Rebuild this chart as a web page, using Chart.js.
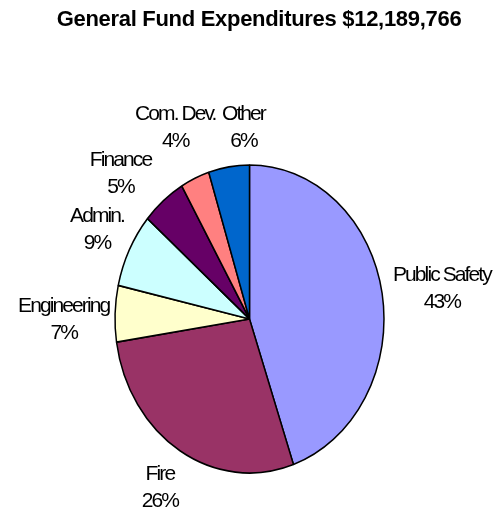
<!DOCTYPE html>
<html>
<head>
  <title>General Fund Expenditures</title>
  <style>
    body {
      margin: 0;
      background: #ffffff;
    }
    #chartContainer {
      display: block;
    }
  </style>
</head>
<body>
  <canvas id="chartContainer" width="496" height="512"></canvas>

  <script src="https://cdn.jsdelivr.net/npm/chart.js@4/dist/chart.umd.min.js"></script>

  <script>
    const chartTitle = 'General Fund Expenditures $12,189,766';
    const departments = ['Public Safety', 'Fire', 'Engineering', 'Admin.', 'Finance', 'Com. Dev.', 'Other'];
    // slice sizes as drawn
    const shares = [44.7, 27.9, 5.9, 7.8, 5.3, 3.5, 4.9];
    // percentages as printed on the labels
    const percentLabels = ['43%', '26%', '7%', '9%', '5%', '4%', '6%'];
    const sliceColors = ['#9999FF', '#993366', '#FFFFCC', '#CCFFFF', '#660066', '#FF8080', '#0066CC'];

    const PIE_RADIUS = 134.5;     // horizontal radius
    const STRETCH_Y = 1.145;      // the pie is an upright ellipse
    const LABEL_REACH = 1.36;     // label distance, in radii
    // small shifts to mimic the original best-fit label placement
    const labelNudge = [[12, 3], [5, -12], [-3, 6], [11, 3], [-12, 14], [0, -2], [22, 14]];

    // stretch the pie vertically around its centre
    const ellipsePlugin = {
      id: 'ellipse',
      beforeDatasetsDraw(chart) {
        const arc = chart.getDatasetMeta(0).data[0];
        const ctx = chart.ctx;
        ctx.save();
        ctx.translate(arc.x, arc.y);
        ctx.scale(1, STRETCH_Y);
        ctx.translate(-arc.x, -arc.y);
      },
      afterDatasetsDraw(chart) {
        chart.ctx.restore();
      }
    };

    const textPlugin = {
      id: 'texts',
      afterDraw(chart) {
        const ctx = chart.ctx;
        ctx.save();
        ctx.fillStyle = '#000000';
        ctx.textAlign = 'center';
        ctx.textBaseline = 'alphabetic';

        ctx.font = "bold 22px 'Liberation Sans', Arial, sans-serif";
        ctx.letterSpacing = '-0.3px';
        ctx.fillText(chartTitle, 259, 26);

        ctx.font = "21px 'Liberation Sans', Arial, sans-serif";
        ctx.letterSpacing = '-1.9px';
        chart.getDatasetMeta(0).data.forEach((arc, i) => {
          const mid = (arc.startAngle + arc.endAngle) / 2;
          const r = arc.outerRadius * LABEL_REACH;
          const lx = arc.x + Math.cos(mid) * r + labelNudge[i][0];
          const ly = arc.y + Math.sin(mid) * r * STRETCH_Y + labelNudge[i][1];
          ctx.fillText(departments[i], lx, ly - 6);
          ctx.fillText(percentLabels[i], lx, ly + 21);
        });
        ctx.restore();
      }
    };

    const ctx = document.getElementById('chartContainer').getContext('2d');

    window.myChart = new Chart(ctx, {
      type: 'pie',
      data: {
        labels: departments,
        datasets: [{
          data: shares,
          backgroundColor: sliceColors,
          borderColor: '#000000',
          borderWidth: 1.5,
          borderAlign: 'center',
          clip: false
        }]
      },
      options: {
        responsive: false,
        animation: false,
        radius: PIE_RADIUS,
        layout: {
          padding: { left: 3, right: 0, top: 126, bottom: 0 }
        },
        plugins: {
          legend: { display: false },
          title: { display: false },
          tooltip: { enabled: false }
        }
      },
      plugins: [ellipsePlugin, textPlugin]
    });
  </script>
</body>
</html>
